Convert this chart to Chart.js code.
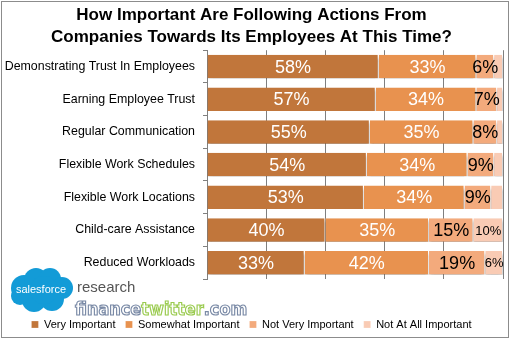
<!DOCTYPE html>
<html>
<head>
<meta charset="utf-8">
<script src="https://cdn.jsdelivr.net/npm/chart.js@4/dist/chart.umd.min.js"></script>
<style>
  html, body { margin: 0; padding: 0; background: #fff; }
  #wrap { width: 511px; height: 340px; }
</style>
</head>
<body>
<div id="wrap"><canvas id="chart" width="511" height="340"></canvas></div>
<script>
const categories = [
    'Demonstrating Trust In Employees',
    'Earning Employee Trust',
    'Regular Communication',
    'Flexible Work Schedules',
    'Flexible Work Locations',
    'Child-care Assistance',
    'Reduced Workloads',
];
const seriesNames = ['Very Important', 'Somewhat Important', 'Not Very Important', 'Not At All Important'];
const veryImportant = [58, 57, 55, 54, 53, 40, 33];
const somewhatImportant = [33, 34, 35, 34, 34, 35, 42];
const notVeryImportant = [6, 7, 8, 9, 9, 15, 19];
const notAtAllImportant = [3, 2, 2, 3, 4, 10, 6];
const xTicks = [0, 20, 40, 60, 80, 100];

const colors = ['#c1763b', '#e8924f', '#f3aa7c', '#f9cbb4'];
const labelFonts = ['18px "Liberation Sans"', '18px "Liberation Sans"', '18px "Liberation Sans"', '13px "Liberation Sans"'];
const labelColors = ['#ffffff', '#ffffff', '#000000', '#000000'];

const barShadow = {
    id: 'barShadow',
    beforeDatasetsDraw(chart) {
        const ctx = chart.ctx;
        ctx.save();
        ctx.shadowColor = 'rgba(0,0,0,0.45)';
        ctx.shadowOffsetY = 3;
        ctx.shadowBlur = 3;
    },
    afterDatasetsDraw(chart) {
        chart.ctx.restore();
    },
};

const valueLabels = {
    id: 'valueLabels',
    afterDatasetsDraw(chart) {
        const ctx = chart.ctx;
        ctx.save();
        ctx.textAlign = 'center';
        ctx.textBaseline = 'middle';
        chart.data.datasets.forEach((ds, i) => {
            const meta = chart.getDatasetMeta(i);
            meta.data.forEach((bar, j) => {
                const v = ds.data[j];
                if (i === 3 && v < 5) {
                    return;
                }
                const c = bar.getCenterPoint();
                ctx.font = labelFonts[i];
                ctx.fillStyle = labelColors[i];
                ctx.fillText(v + '%', c.x, c.y + 1);
            });
        });
        ctx.restore();
    },
};

const decor = {
    id: 'decor',
    afterDraw(chart) {
        const ctx = chart.ctx;
        ctx.save();
        // frame
        ctx.strokeStyle = '#8c8c8c';
        ctx.lineWidth = 1;
        ctx.strokeRect(1.5, 1.5, 507, 336);
        // cloud
        ctx.fillStyle = '#139bd7';
        const blobs = [[24, 288, 13], [36, 280, 12], [50, 279, 11], [62, 288, 11], [52, 299, 12], [34, 300, 12], [20, 296, 9], [44, 290, 14]];
        blobs.forEach(([x, y, r]) => {
            ctx.beginPath();
            ctx.arc(x, y, r, 0, Math.PI * 2);
            ctx.fill();
        });
        ctx.fillStyle = '#ffffff';
        ctx.font = '11px "Liberation Sans"';
        ctx.textAlign = 'center';
        ctx.textBaseline = 'middle';
        ctx.fillText('salesforce', 41, 290);
        ctx.fillStyle = '#555555';
        ctx.font = '15px "Liberation Sans"';
        ctx.textAlign = 'left';
        ctx.textBaseline = 'alphabetic';
        ctx.fillText('research', 77, 292);
        // financetwitter.com
        const parts = [['finance', '#7a8aa6'], ['twitter', '#9acb4f'], ['.com', '#7a8aa6']];
        ctx.font = 'bold 17px "DejaVu Sans"';
        const full = ctx.measureText('financetwitter.com').width;
        const sx = 170 / full;
        ctx.translate(75, 315);
        ctx.scale(sx, 1);
        let x = 0;
        ctx.lineWidth = 1.2;
        parts.forEach(([t, col]) => {
            ctx.fillStyle = '#ffffff';
            ctx.strokeStyle = col;
            ctx.fillText(t, x, 0);
            ctx.strokeText(t, x, 0);
            x += ctx.measureText(t).width;
        });
        ctx.restore();
    },
};

const datasets = [veryImportant, somewhatImportant, notVeryImportant, notAtAllImportant].map((data, i) => ({
    label: seriesNames[i],
    data: data,
    backgroundColor: colors[i],
    borderColor: '#ffffff',
    borderWidth: { left: 0, right: 1, top: 0, bottom: 0 },
    borderSkipped: false,
    barPercentage: 0.72,
    categoryPercentage: 1,
}));

new Chart(document.getElementById('chart'), {
    type: 'bar',
    data: { labels: categories, datasets: datasets },
    options: {
        responsive: false,
        animation: false,
        indexAxis: 'y',
        layout: { padding: { left: 0, right: 8, top: 0, bottom: 0 } },
        plugins: {
            title: {
                display: true,
                text: ['How Important Are Following Actions From', 'Companies Towards Its Employees At This Time?'],
                color: '#000',
                font: { family: '"Liberation Sans"', size: 17, weight: 'bold', lineHeight: 1.3 },
                padding: { top: 4, bottom: 2 },
            },
            legend: {
                position: 'bottom',
                labels: {
                    color: '#000',
                    font: { family: '"Liberation Sans"', size: 11 },
                    boxWidth: 7,
                    boxHeight: 7,
                    padding: 10,
                },
            },
            tooltip: { enabled: false },
        },
        scales: {
            x: {
                stacked: true,
                min: 0,
                max: 100,
                afterBuildTicks: (scale) => {
                    scale.ticks = xTicks.map((v) => ({ value: v }));
                },
                ticks: { display: false },
                grid: { color: '#7f7f7f', drawTicks: false },
                border: { display: false },
                afterFit: (scale) => {
                    scale.height = 30;
                },
            },
            y: {
                stacked: true,
                ticks: {
                    color: '#000',
                    font: { family: '"Liberation Sans"', size: 12.4 },
                    padding: 8,
                },
                grid: { offset: true, drawOnChartArea: false, tickLength: 4, color: '#808080' },
                border: { display: true, color: '#808080' },
                afterFit: (scale) => {
                    scale.width = 207;
                },
            },
        },
    },
    plugins: [barShadow, valueLabels, decor],
});
</script>
</body>
</html>
